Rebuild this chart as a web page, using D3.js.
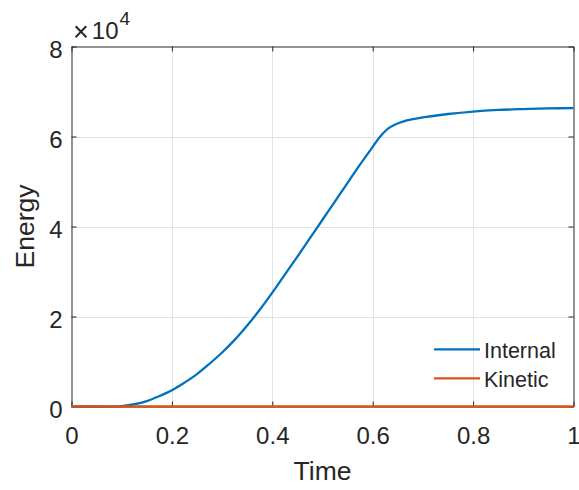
<!DOCTYPE html>
<html>
<head>
<meta charset="utf-8">
<script src="https://cdn.jsdelivr.net/npm/d3@7"></script>
<style>
  html, body { margin: 0; padding: 0; background: #fff; }
  svg { display: block; font-family: "Liberation Sans", Arial, Helvetica, sans-serif; }
</style>
</head>
<body>
<svg id="chart" width="579" height="490"></svg>
<script>
// Simulation time samples
const time = [0, 0.05, 0.08, 0.1, 0.125, 0.15, 0.175, 0.2, 0.225, 0.25, 0.275, 0.3,
  0.325, 0.35, 0.375, 0.4, 0.425, 0.45, 0.475, 0.5, 0.525, 0.55, 0.575, 0.6,
  0.615, 0.63, 0.645, 0.66, 0.68, 0.7, 0.75, 0.8, 0.85, 0.9, 0.95, 1.0];

// Internal energy at each sample
const internalEnergy = [0, 0, 0, 100, 500, 1200, 2300, 3600, 5300, 7200, 9500, 12000,
  14800, 18000, 21500, 25300, 29300, 33300, 37400, 41500, 45600, 49700, 53800, 57700,
  60000, 61700, 62650, 63300, 63850, 64250, 65000, 65550, 65900, 66100, 66250, 66300];

// Kinetic energy at each sample
const kineticEnergy = [0, 0, 0, 0, 0, 0, 0, 0, 0, 0, 0, 0,
  0, 0, 0, 0, 0, 0, 0, 0, 0, 0, 0, 0,
  0, 0, 0, 0, 0, 0, 0, 0, 0, 0, 0, 0];

const xTicks = [0, 0.2, 0.4, 0.6, 0.8, 1];
const xTickLabels = ["0", "0.2", "0.4", "0.6", "0.8", "1"];
const yTicks = [0, 20000, 40000, 60000, 80000];
const yTickLabels = ["0", "2", "4", "6", "8"];

const seriesNames = ["Internal", "Kinetic"];
const seriesColors = ["#0072BD", "#D95319"];

const svg = d3.select("#chart");
const plotLeft = 71.5, plotRight = 573.5, plotTop = 46.5, plotBottom = 406.5;
const textColor = "#262626";
const axisColor = "#262626";

const x = d3.scaleLinear().domain([0, 1]).range([plotLeft, plotRight]);
const y = d3.scaleLinear().domain([0, 80000]).range([plotBottom, plotTop]);

// Grid lines
const grid = svg.append("g");
grid.selectAll("line.gx").data(xTicks.slice(1, -1)).join("line")
  .attr("x1", d => Math.round(x(d)) + 0.5).attr("x2", d => Math.round(x(d)) + 0.5)
  .attr("y1", plotTop).attr("y2", plotBottom)
  .attr("stroke", "#e3e3e3").attr("stroke-width", 1);
grid.selectAll("line.gy").data(yTicks.slice(1, -1)).join("line")
  .attr("y1", d => Math.round(y(d)) + 0.5).attr("y2", d => Math.round(y(d)) + 0.5)
  .attr("x1", plotLeft).attr("x2", plotRight)
  .attr("stroke", "#e3e3e3").attr("stroke-width", 1);

// Axes with inward ticks on all four sides
const tickLen = 5;
const axBottom = d3.axisBottom(x).tickValues(xTicks).tickSize(-tickLen).tickSizeOuter(0).tickFormat((d, i) => xTickLabels[i]);
const axTop = d3.axisTop(x).tickValues(xTicks).tickSize(-tickLen).tickSizeOuter(0).tickFormat("");
const axLeft = d3.axisLeft(y).tickValues(yTicks).tickSize(-tickLen).tickSizeOuter(0).tickFormat((d, i) => yTickLabels[i]);
const axRight = d3.axisRight(y).tickValues(yTicks).tickSize(-tickLen).tickSizeOuter(0).tickFormat("");

function styleAxis(g) {
  g.select(".domain").attr("stroke", axisColor).attr("stroke-width", 1);
  g.selectAll(".tick line").attr("stroke", axisColor).attr("stroke-width", 1);
  g.selectAll(".tick text").attr("fill", textColor).attr("font-size", 24)
    .attr("font-family", "'Liberation Sans', Arial, sans-serif");
}

const gB = svg.append("g").attr("transform", `translate(0,${plotBottom})`).call(axBottom).call(styleAxis);
gB.selectAll(".tick text").attr("dy", null).attr("y", 37);
svg.append("g").attr("transform", `translate(0,${plotTop})`).call(axTop).call(styleAxis);
const gL = svg.append("g").attr("transform", `translate(${plotLeft},0)`).call(axLeft).call(styleAxis);
gL.selectAll(".tick text").attr("dy", null).attr("x", -9).attr("y", 11);
svg.append("g").attr("transform", `translate(${plotRight},0)`).call(axRight).call(styleAxis);

// Exponent multiplier
const expo = svg.append("text").attr("x", 73).attr("y", 38.5)
  .attr("fill", textColor).attr("font-size", 24);
expo.append("tspan").attr("font-size", 27).attr("dy", 2).text("\u00d7");
expo.append("tspan").attr("dx", 3).attr("dy", -2).text("10");
expo.append("tspan").attr("font-size", 19).attr("dy", -14).attr("dx", 1).text("4");

// Axis labels
svg.append("text").attr("x", (plotLeft + plotRight) / 2).attr("y", 480)
  .attr("text-anchor", "middle").attr("fill", textColor).attr("font-size", 26.5).text("Time");
svg.append("text").attr("transform", `translate(33.5,${(plotTop + plotBottom) / 2}) rotate(-90)`)
  .attr("text-anchor", "middle").attr("fill", textColor).attr("font-size", 26.5).text("Energy");

// Energy curves
const series = [internalEnergy, kineticEnergy];
const line = d3.line().x((d, i) => x(time[i])).y(d => y(d)).curve(d3.curveCatmullRom.alpha(0.5));
svg.append("g").selectAll("path").data(series).join("path")
  .attr("d", d => line(d))
  .attr("fill", "none")
  .attr("stroke", (d, i) => seriesColors[i])
  .attr("stroke-width", 2.3)
  .attr("stroke-linejoin", "round");

// Legend
const legendY = [349.3, 378.3];
const legend = svg.append("g");
legend.selectAll("line").data(seriesNames).join("line")
  .attr("x1", 434).attr("x2", 480)
  .attr("y1", (d, i) => legendY[i]).attr("y2", (d, i) => legendY[i])
  .attr("stroke", (d, i) => seriesColors[i]).attr("stroke-width", 2.3);
legend.selectAll("text").data(seriesNames).join("text")
  .attr("x", 484).attr("y", (d, i) => legendY[i] + 8.7)
  .attr("fill", textColor).attr("font-size", 21.5).text(d => d);
</script>
</body>
</html>
